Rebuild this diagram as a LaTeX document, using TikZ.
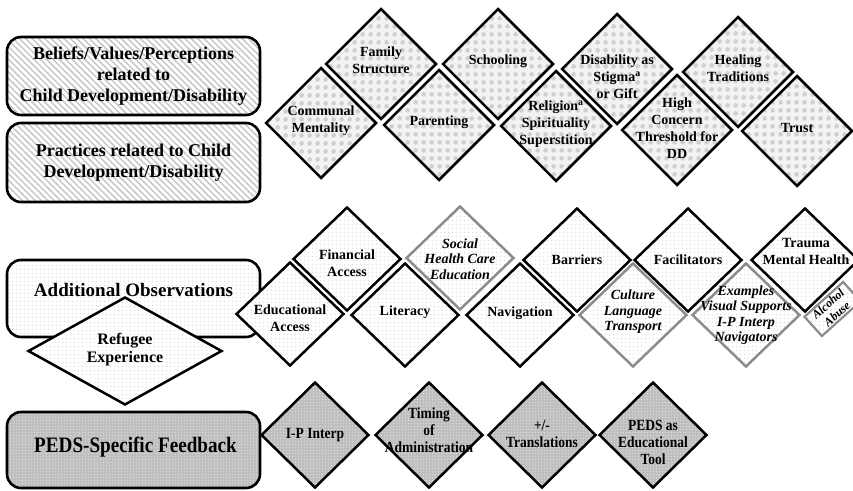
\documentclass[tikz,border=0pt]{standalone}
\usepackage{fontspec}
\setmainfont{Liberation Serif}
\newfontfamily\condfont[FakeStretch=0.87]{Liberation Serif}
\usetikzlibrary{shapes.geometric,patterns,patterns.meta}

\pgfdeclarepatternformonly{chkdots}{\pgfqpoint{0pt}{0pt}}{\pgfqpoint{7.6pt}{7.6pt}}{\pgfqpoint{7.6pt}{7.6pt}}{\pgfpathcircle{\pgfqpoint{3.8pt}{3.8pt}}{2.4pt}\pgfusepath{fill}}
\pgfdeclarepatternformonly{finedots}{\pgfqpoint{0pt}{0pt}}{\pgfqpoint{3.6pt}{3.6pt}}{\pgfqpoint{3.6pt}{3.6pt}}{\pgfpathcircle{\pgfqpoint{1.8pt}{1.8pt}}{0.75pt}\pgfusepath{fill}}
\pgfdeclarepatternformonly{smallsq}{\pgfqpoint{0pt}{0pt}}{\pgfqpoint{3.4pt}{3.4pt}}{\pgfqpoint{3.4pt}{3.4pt}}{\pgfpathrectangle{\pgfqpoint{0.7pt}{0.7pt}}{\pgfqpoint{2pt}{2pt}}\pgfusepath{fill}}

\tikzset{
  hatchfill/.style={preaction={fill=white}, pattern={Lines[angle=-45,distance=4.5pt,line width=1.5pt]}, pattern color=black!22},
  dotfill/.style={preaction={fill=white}, pattern=finedots, pattern color=black!14},
  chkfill/.style={preaction={fill=black!5}, pattern=chkdots, pattern color=black!19},
  darkfill/.style={preaction={fill=black!27}, pattern=smallsq, pattern color=black!16},
  catbox/.style={rectangle, rounded corners=14pt, draw, line width=2.6pt, minimum width=253pt, inner sep=0pt, align=center},
  boxtext/.style={align=center, inner sep=0pt, font=\fontsize{18}{21}\selectfont\bfseries},
  chkdia/.style={diamond, draw, line width=2.5pt, minimum width=111pt, minimum height=111pt, inner sep=0pt, chkfill},
  middia/.style={diamond, draw, line width=2.5pt, minimum width=108pt, minimum height=104pt, inner sep=0pt, dotfill},
  greydia/.style={middia, draw=black!45},
  botdia/.style={diamond, draw, line width=2.5pt, minimum width=108pt, minimum height=106pt, inner sep=0pt, darkfill},
  dt/.style={align=center, inner sep=0pt, font=\fontsize{14}{17}\selectfont\bfseries},
  itt/.style={align=center, inner sep=0pt, font=\fontsize{14}{15.5}\selectfont\bfseries\itshape},
  bt/.style={align=center, inner sep=0pt, font=\condfont\fontsize{15.5}{17}\selectfont\bfseries},
}

\begin{document}
\begin{tikzpicture}[x=1pt,y=-1pt]
\useasboundingbox (0,0) rectangle (853,490);
\fill[white] (0,0) rectangle (853,490);
\clip (0,0) rectangle (853,490);

% ---- category boxes ----
\node[catbox, hatchfill, minimum height=78pt, boxtext] (bel) at (133.5,76) {Beliefs/Values/Perceptions\\related to\\Child Development/Disability};
\node[catbox, hatchfill, minimum height=79pt, boxtext] (pra) at (133.5,162.5) {Practices related to Child\\Development/Disability};
\node[catbox, dotfill, minimum height=77pt] (add) at (133.5,298.5) {};
\node[boxtext, font=\fontsize{19}{21}\selectfont\bfseries] (addt) at ([yshift=8.5pt]add.center) {Additional Observations};
\node[diamond, draw, line width=2.5pt, minimum width=194pt, minimum height=108pt, inner sep=0pt, dotfill] (ref) at (125,351) {};
\node[dt, font=\fontsize{16}{18}\selectfont\bfseries] (reft) at ([yshift=1pt]ref.center) {Refugee\\Experience};
\node[catbox, darkfill, minimum height=76pt] (peds) at (133.5,450) {};
\node[boxtext, font=\condfont\fontsize{22}{24}\selectfont\bfseries] (pedst) at ([xshift=2pt,yshift=3pt]peds.center) {PEDS-Specific Feedback};

% ---- top row diamonds ----
\node[chkdia] (fam) at (381,64) {};
\node[chkdia] (sch) at (498,64) {};
\node[chkdia] (dis) at (617,69) {};
\node[chkdia] (heal) at (738,72) {};
\node[chkdia] (com) at (321,123) {};
\node[chkdia] (par) at (439,125) {};
\node[chkdia] (rel) at (556,126) {};
\node[chkdia] (high) at (677,130) {};
\node[chkdia] (trust) at (797,131) {};

\node[dt] (famt) at ([yshift=4pt]fam.center) {Family\\Structure};
\node[dt] (scht) at ([yshift=3pt]sch.center) {Schooling};
\node[dt] (dist) at ([yshift=-8pt]dis.center) {Disability as\\Stigma\textsuperscript{a}\\or Gift};
\node[dt] (healt) at ([yshift=4pt]heal.center) {Healing\\Traditions};
\node[dt] (comt) at ([yshift=2pt]com.center) {Communal\\Mentality};
\node[dt] (part) at ([yshift=3pt]par.center) {Parenting};
\node[dt] (relt) at ([yshift=2pt]rel.center) {Religion\textsuperscript{a}\\Spirituality\\Superstition};
\node[dt] (hight) at ([yshift=2pt]high.center) {High\\Concern\\Threshold for\\DD};
\node[dt] (trustt) at ([yshift=3pt]trust.center) {Trust};

% ---- middle row diamonds ----
\node[middia] (fin) at (347,259) {};
\node[greydia] (soc) at (460,258) {};
\node[middia] (bar) at (577,260) {};
\node[middia] (fac) at (688,260) {};
\node[middia] (trau) at (805,260) {};
\node[middia] (edu) at (290,314) {};
\node[middia] (lit) at (405,315) {};
\node[middia] (nav) at (520,315) {};
\node[greydia] (cul) at (633,315) {};
\node[greydia] (ex) at (746,315) {};
\node[rectangle, draw=black!45, line width=2.2pt, minimum width=52pt, minimum height=26pt, inner sep=0pt, rotate=42, dotfill, align=center, font=\fontsize{12}{13.5}\selectfont\bfseries\itshape] (alc) at (832.5,309) {Alcohol\\Abuse};

\node[dt] (fint) at ([yshift=-4pt]fin.center) {Financial\\Access};
\node[itt] (soct) at ([yshift=-1pt]soc.center) {Social\\Health Care\\Education};
\node[dt] (bart) at (bar.center) {Barriers};
\node[dt] (fact) at (fac.center) {Facilitators};
\node[dt] (traut) at ([xshift=1pt,yshift=9pt]trau.center) {Trauma\\Mental Health};
\node[dt] (edut) at ([yshift=-4pt]edu.center) {Educational\\Access};
\node[dt] (litt) at ([yshift=3pt]lit.center) {Literacy};
\node[dt] (navt) at ([yshift=2pt]nav.center) {Navigation};
\node[itt] (cult) at ([yshift=3pt]cul.center) {Culture\\Language\\Transport};
\node[itt] (ext) at (ex.center) {Examples\\Visual Supports\\I-P Interp\\Navigators};

% ---- bottom row diamonds ----
\node[botdia] (ip) at (315,435) {};
\node[botdia] (tim) at (429,435) {};
\node[botdia] (tra) at (542,435) {};
\node[botdia] (ped) at (653,435) {};

\node[bt] (ipt) at (ip.center) {I-P Interp};
\node[bt] (timt) at ([yshift=5pt]tim.center) {Timing\\of\\Administration};
\node[bt] (trat) at ([yshift=1pt]tra.center) {+/-\\Translations};
\node[bt] (pedt) at ([yshift=-7pt]ped.center) {PEDS as\\Educational\\Tool};
\end{tikzpicture}
\end{document}
